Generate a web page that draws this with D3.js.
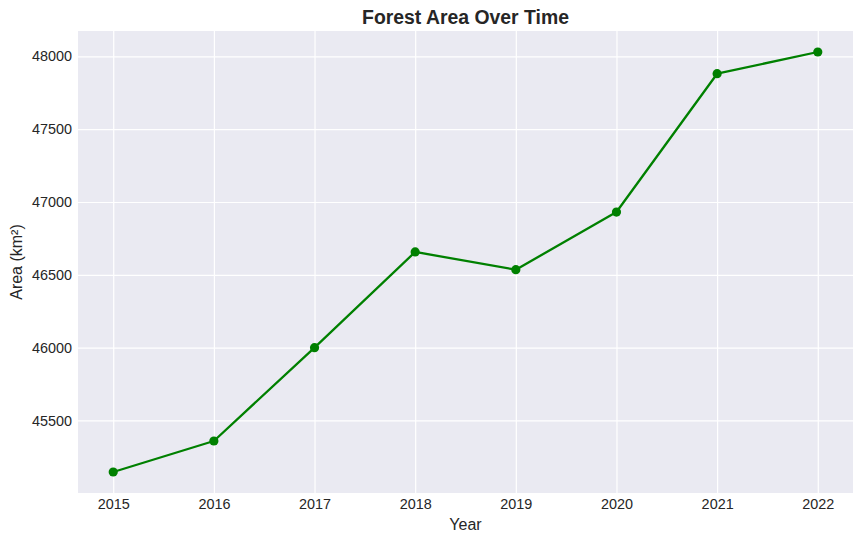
<!DOCTYPE html>
<html>
<head>
<meta charset="utf-8">
<script src="https://cdn.jsdelivr.net/npm/d3@7"></script>
<style>
  html, body { margin: 0; padding: 0; background: #ffffff; }
  svg { display: block; font-family: "Liberation Sans", Arial, sans-serif; }
</style>
</head>
<body>
<svg id="chart" width="862" height="542"></svg>
<script>
const years = [2015, 2016, 2017, 2018, 2019, 2020, 2021, 2022];
const areaValues = [45146, 45359, 46000, 46657, 46535, 46931, 47881, 48030];
const yTickValues = [45500, 46000, 46500, 47000, 47500, 48000];
const titleText = "Forest Area Over Time";
const xLabelText = "Year";
const yLabelText = "Area (km²)";

const W = 862, H = 542;
const m = { left: 78, right: 9, top: 31, bottom: 49 };
const svg = d3.select("#chart");

const xExt = d3.extent(years), yExt = d3.extent(areaValues);
const xPad = (xExt[1] - xExt[0]) * 0.05, yPad = (yExt[1] - yExt[0]) * 0.05;

const x = d3.scaleLinear().domain([xExt[0] - xPad, xExt[1] + xPad]).range([m.left, W - m.right]);
const y = d3.scaleLinear().domain([yExt[0] - yPad, yExt[1] + yPad]).range([H - m.bottom, m.top]);

svg.append("rect")
  .attr("x", m.left).attr("y", m.top)
  .attr("width", W - m.left - m.right).attr("height", H - m.top - m.bottom)
  .attr("fill", "#eaeaf2");

// grid + axes
const xAxis = svg.append("g")
  .attr("transform", `translate(0,${H - m.bottom})`)
  .call(d3.axisBottom(x).tickValues(years).tickFormat(d3.format("d"))
    .tickSize(-(H - m.top - m.bottom)).tickPadding(16));
const yAxis = svg.append("g")
  .attr("transform", `translate(${m.left},0)`)
  .call(d3.axisLeft(y).tickValues(yTickValues).tickFormat(d3.format("d"))
    .tickSize(-(W - m.left - m.right)).tickPadding(6));

[xAxis, yAxis].forEach(g => {
  g.select(".domain").remove();
  g.selectAll(".tick line").attr("stroke", "#ffffff").attr("stroke-width", 1.2);
  g.selectAll(".tick text").attr("fill", "#262626").style("font-size", "14.4px");
});
xAxis.selectAll(".tick text").attr("dy", 0).attr("y", 16);

// line
const line = d3.line().x((d, i) => x(years[i])).y(d => y(d));
svg.append("path")
  .datum(areaValues)
  .attr("fill", "none")
  .attr("stroke", "#008000")
  .attr("stroke-width", 2.3)
  .attr("stroke-linejoin", "round")
  .attr("d", line);

svg.selectAll("circle.pt")
  .data(areaValues)
  .enter().append("circle")
  .attr("class", "pt")
  .attr("cx", (d, i) => x(years[i]))
  .attr("cy", d => y(d))
  .attr("r", 4.6)
  .attr("fill", "#008000");

// title and labels
svg.append("text")
  .attr("x", (m.left + W - m.right) / 2).attr("y", 24)
  .attr("text-anchor", "middle")
  .attr("fill", "#262626")
  .style("font-size", "19.4px").style("font-weight", "bold")
  .text(titleText);

svg.append("text")
  .attr("x", (m.left + W - m.right) / 2).attr("y", 530)
  .attr("text-anchor", "middle")
  .attr("fill", "#262626")
  .style("font-size", "16px")
  .text(xLabelText);

svg.append("text")
  .attr("transform", `translate(22,${(m.top + H - m.bottom) / 2}) rotate(-90)`)
  .attr("text-anchor", "middle")
  .attr("fill", "#262626")
  .style("font-size", "16px")
  .text(yLabelText);
</script>
</body>
</html>
